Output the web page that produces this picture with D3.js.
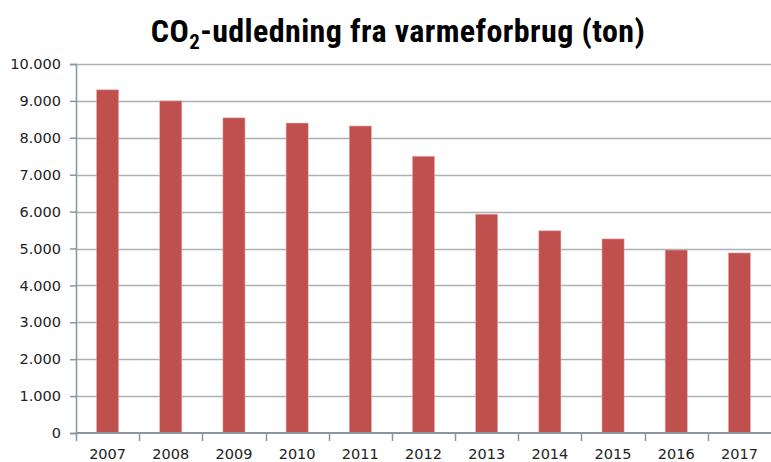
<!DOCTYPE html>
<html>
<head>
<meta charset="utf-8">
<script src="https://cdnjs.cloudflare.com/ajax/libs/d3/7.8.5/d3.min.js"></script>
<style>
  body { margin: 0; background: #fff; }
  svg { display: block; }
</style>
</head>
<body>
<div id="chart"></div>
<script>
// data
var years = ["2007", "2008", "2009", "2010", "2011", "2012", "2013", "2014", "2015", "2016", "2017"];
var emissions = [9300, 9000, 8540, 8400, 8320, 7500, 5930, 5480, 5260, 4960, 4880];
var yTicks = [0, 1000, 2000, 3000, 4000, 5000, 6000, 7000, 8000, 9000, 10000];

// set the dimensions and margins of the graph
var W = 771, H = 462;
var margin = { top: 64, right: 0, bottom: 29, left: 76 },
  width = W - margin.left - margin.right,
  height = H - margin.top - margin.bottom;

var svg = d3.select("#chart")
  .append("svg")
  .attr("width", W)
  .attr("height", H);

// title
var title = svg.append("text")
  .attr("x", 398)
  .attr("y", 42)
  .attr("text-anchor", "middle")
  .style("font-family", "'Liberation Sans Narrow', 'Roboto Condensed', 'DejaVu Sans Condensed', sans-serif")
  .style("font-weight", "bold")
  .style("font-size", "32px")
  .style("letter-spacing", "0.4px")
  .attr("fill", "#000");
title.append("tspan").text("CO");
title.append("tspan").attr("dy", 7).style("font-size", "21px").text("2");
title.append("tspan").attr("dy", -7).text("-udledning fra varmeforbrug (ton)");

var g = svg.append("g")
  .attr("transform", "translate(" + margin.left + "," + margin.top + ")");

var x = d3.scaleBand()
  .domain(years)
  .range([0, width])
  .paddingInner(0.65)
  .paddingOuter(0.325);

var y = d3.scaleLinear()
  .domain([0, 10000])
  .range([height, 0]);

var fmt = function(d) { return d3.format(",")(d).replace(/,/g, "."); };

// gridlines
g.append("g")
  .selectAll("line")
  .data(yTicks.filter(function(d) { return d > 0; }))
  .enter().append("line")
  .attr("x1", 0)
  .attr("x2", width)
  .attr("y1", function(d) { return Math.round(y(d)) + 0.5; })
  .attr("y2", function(d) { return Math.round(y(d)) + 0.5; })
  .attr("stroke", "#a7b1b6")
  .attr("stroke-width", 1.5);

// bars
g.selectAll(".bar")
  .data(emissions)
  .enter().append("rect")
  .attr("class", "bar")
  .attr("x", function(d, i) { return x(years[i]); })
  .attr("width", x.bandwidth())
  .attr("y", function(d) { return y(d); })
  .attr("height", function(d) { return height - y(d); })
  .attr("fill", "#c0504d")
  .attr("stroke", "#e7aeac")
  .attr("stroke-width", 0.6);

// Y axis
var yAxis = g.append("g")
  .call(d3.axisLeft(y).tickValues(yTicks).tickFormat(fmt).tickSizeOuter(0).tickSize(6).tickPadding(9));
yAxis.select(".domain").attr("stroke", "#8796a0").attr("stroke-width", 1.5);
yAxis.selectAll(".tick line").attr("stroke", "#8796a0").attr("stroke-width", 1.5);
yAxis.selectAll("text")
  .style("font-family", "'DejaVu Sans', Verdana, sans-serif")
  .style("font-size", "14.5px")
  .attr("fill", "#222");

// X axis
var xEdges = years.map(function(d) { return x(d) - x.step() * x.paddingInner() / 2; });
var xAxisG = g.append("g")
  .attr("transform", "translate(0," + height + ")");
xAxisG.append("line")
  .attr("x1", 0).attr("x2", width)
  .attr("y1", 0).attr("y2", 0)
  .attr("stroke", "#8796a0")
  .attr("stroke-width", 2);
xAxisG.selectAll(".xtick")
  .data(xEdges)
  .enter().append("line")
  .attr("class", "xtick")
  .attr("x1", function(d) { return Math.round(d) + 0.5; })
  .attr("x2", function(d) { return Math.round(d) + 0.5; })
  .attr("y1", 0).attr("y2", 8)
  .attr("stroke", "#8796a0")
  .attr("stroke-width", 1.5);
xAxisG.selectAll(".xlabel")
  .data(years)
  .enter().append("text")
  .attr("class", "xlabel")
  .attr("x", function(d) { return x(d) + x.bandwidth() / 2; })
  .attr("y", 26)
  .attr("text-anchor", "middle")
  .style("font-family", "'DejaVu Sans', Verdana, sans-serif")
  .style("font-size", "14.5px")
  .attr("fill", "#222")
  .text(function(d) { return d; });
</script>
</body>
</html>
